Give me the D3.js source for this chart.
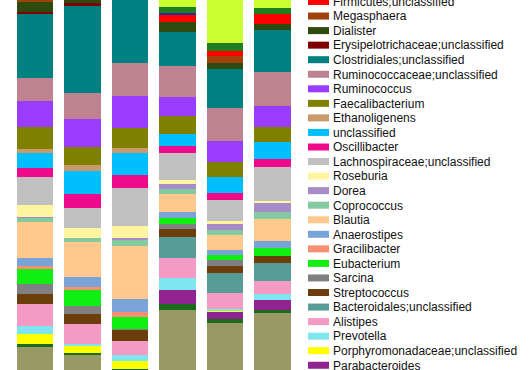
<!DOCTYPE html>
<html>
<head>
<meta charset="utf-8">
<script src="https://cdn.jsdelivr.net/npm/d3@7"></script>
<style>
  body { margin: 0; background: #fff; overflow: hidden; }
  svg { display: block; }
  .legend text { font-family: "Liberation Sans", Arial, sans-serif; font-size: 12px; fill: #111; }
</style>
</head>
<body>
<svg id="chart"></svg>
<script>
// samples (x categories)
const samples = ["S1", "S2", "S3", "S4", "S5", "S6"];

// taxa in legend order (top of legend = top of stack)
const taxa = [
    "Others", "Lactobacillus", "Veillonella", "Firmicutes;unclassified",
    "Megasphaera", "Dialister", "Erysipelotrichaceae;unclassified",
    "Clostridiales;unclassified", "Ruminococcaceae;unclassified", "Ruminococcus",
    "Faecalibacterium", "Ethanoligenens", "unclassified", "Oscillibacter",
    "Lachnospiraceae;unclassified", "Roseburia", "Dorea", "Coprococcus", "Blautia",
    "Anaerostipes", "Gracilibacter", "Eubacterium", "Sarcina", "Streptococcus",
    "Bacteroidales;unclassified", "Alistipes", "Prevotella",
    "Porphyromonadaceae;unclassified", "Parabacteroides",
    "Bacteroidetes;unclassified", "Bacteroides"
];

const colors = [
    "#ccff33", "#1f7f1f", "#2a2a9a", "#ff0000",
    "#a0420a", "#2f4a0f", "#800000",
    "#008080", "#bf8290", "#9a3cff",
    "#808000", "#c89a6c", "#00bfff", "#ee0a8a",
    "#c0c0c0", "#fff5a0", "#a58cc8", "#85c9a0", "#ffc98e",
    "#7aa3d8", "#f88e72", "#11ee11", "#808080", "#6b3e0b",
    "#589c98", "#f59ac4", "#7fe6f0",
    "#ffff00", "#902390",
    "#1a6b1a", "#999966"
];

// relative abundance (%) per sample, same order as taxa
const s1 = [6, 2, 0, 3.2, 1.2, 2, 0.4, 12.8, 4.6, 5.2, 4.4, 0.8, 3, 1.8, 5.6, 2.4, 0.2, 0.8, 7.2, 1.6, 0.6, 3, 2, 2, 0, 4.4, 1.6, 2, 0, 0.6, 18.6];
const s2 = [5, 1.6, 0, 2.4, 1, 2.6, 0.6, 17.4, 5.2, 5.6, 3.6, 1.2, 4.6, 2.8, 4, 2, 0, 0.8, 7, 2, 0.6, 3.2, 1.6, 2, 0, 4, 0.4, 1.4, 0, 0.4, 17];
const s3 = [3, 1, 0, 1.2, 0.4, 1.4, 0.4, 17.2, 6.6, 6.4, 4, 1, 4.4, 2.6, 7.6, 2.4, 0.4, 1.2, 10.6, 2.6, 1, 2.4, 0.2, 2.2, 0, 2.8, 1.2, 1.6, 0, 0.4, 13.8];
const s4 = [13.4, 1.2, 0.4, 1.4, 0, 2, 0, 6.8, 6.2, 3.8, 3.6, 0, 2.4, 1.4, 5.4, 0.8, 1, 1, 3.6, 1.2, 0, 1.2, 1, 1.6, 4.2, 4, 2.4, 0, 2.8, 1.2, 26];
const s5 = [20.6, 1.6, 0, 1, 1.4, 1.2, 0, 7.8, 6.6, 4.2, 3, 0, 3.2, 1.4, 4.2, 0.6, 1.2, 1, 3, 1, 0, 1, 1.2, 1.4, 4, 3.2, 0.4, 0.2, 1.4, 0.8, 23.4];
const s6 = [13.6, 1.2, 0, 2, 0, 1.2, 0, 8.4, 6.8, 4.2, 3, 0, 3.4, 1.6, 6.8, 0.4, 1.8, 1.4, 4.4, 1.4, 0, 1.6, 0, 1.4, 3.6, 2.6, 1.2, 0, 2, 0.6, 25.4];

const sampleValues = [s1, s2, s3, s4, s5, s6];

const width = 530;
const height = 370;

const table = samples.map((name, i) => {
    const row = { sample: name };
    taxa.forEach((t, j) => { row[t] = sampleValues[i][j]; });
    return row;
});

const svg = d3.select("#chart")
    .attr("width", width)
    .attr("height", height);

// the picture is a crop of a taller chart, so the plot runs past both edges
const xScale = d3.scaleBand()
    .domain(samples)
    .range([11.5, 296])
    .paddingInner(0.23)
    .paddingOuter(0.115);

const yScale = d3.scaleLinear()
    .domain([0, 100])
    .range([440, -60]);

const color = d3.scaleOrdinal()
    .domain(taxa)
    .range(colors);

// stack from the bottom up
const stack = d3.stack().keys(taxa.slice().reverse());
const series = stack(table);

svg.append("g")
    .selectAll("g")
    .data(series)
    .enter()
    .append("g")
    .attr("fill", d => color(d.key))
    .selectAll("rect")
    .data(d => d)
    .enter()
    .append("rect")
    .attr("x", d => xScale(d.data.sample))
    .attr("width", xScale.bandwidth())
    .attr("y", d => yScale(d[1]))
    .attr("height", d => yScale(d[0]) - yScale(d[1]))
    .attr("shape-rendering", "crispEdges");

// legend - only the rows that fall inside the cropped view
const legendStep = 14.55;
const legendTop = 1.5 - 3 * legendStep;
const legendY = i => legendTop + i * legendStep;

const legendRows = taxa
    .map((t, i) => ({ name: t, y: legendY(i) }))
    .filter(d => d.y > -6 && d.y < height + 2);

const legend = svg.append("g")
    .attr("class", "legend")
    .selectAll("g")
    .data(legendRows)
    .enter()
    .append("g")
    .attr("transform", d => `translate(308,${d.y})`);

legend.append("rect")
    .attr("x", 0)
    .attr("y", -3.5)
    .attr("width", 21)
    .attr("height", 7)
    .attr("fill", d => color(d.name));

legend.append("text")
    .attr("x", 25)
    .attr("dy", "0.36em")
    .text(d => d.name);
</script>
</body>
</html>
